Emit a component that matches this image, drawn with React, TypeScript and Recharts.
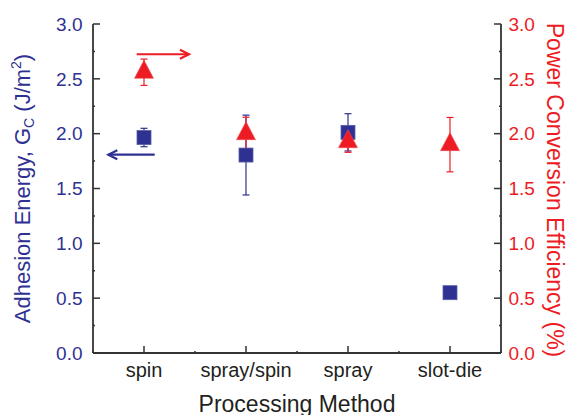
import React from 'react';
import { ComposedChart, Scatter, XAxis, YAxis, ErrorBar, ReferenceLine, Label } from 'recharts';

const categories = ['spin', 'spray/spin', 'spray', 'slot-die'];
const categoryPos = [1, 2, 3, 4];
const adhesion = [1.965, 1.805, 2.012, 0.55];
const adhesionErr = [0.084, 0.364, 0.17, 0.03];
const pce = [2.56, 2.0, 1.927, 1.9];
const pceErr = [0.12, 0.15, 0.097, 0.248];

const xTicks = [0.5, 1, 1.5, 2, 2.5, 3, 3.5, 4, 4.5];
const yTicks = [0, 0.25, 0.5, 0.75, 1, 1.25, 1.5, 1.75, 2, 2.25, 2.5, 2.75, 3];
const yMajorLabels = ['0.0', '0.5', '1.0', '1.5', '2.0', '2.5', '3.0'];

// arrow annotations (data space)
const redArrow = [{ x: 0.928, y: 2.724 }, { x: 1.441, y: 2.724 }];
const blueArrow = [{ x: 1.105, y: 1.808 }, { x: 0.65, y: 1.808 }];

const BLUE = '#2e3192';
const RED = '#ed1c24';
const AXIS = '#333333';
const FONT = 'Liberation Sans, Arial, Helvetica, sans-serif';

const adhesionData = categoryPos.map((x, i) => ({ x, y: adhesion[i], err: adhesionErr[i] }));
const pceData = categoryPos.map((x, i) => ({ x, y: pce[i], err: pceErr[i] }));

const isMajorX = (v: number) => Number.isInteger(v);
const isMajorY = (v: number) => Math.abs(v * 2 - Math.round(v * 2)) < 1e-6;

const BottomTick = (props: any) => {
  const { x, y, payload } = props;
  const v = payload.value;
  const major = isMajorX(v);
  const idx = categoryPos.indexOf(v);
  return (
    <g>
      <line x1={x} x2={x} y1={y} y2={y - (major ? 7 : 2)} stroke={AXIS} strokeWidth={1.5} />
      {major && idx >= 0 && (
        <text x={x} y={y + 24} textAnchor="middle" fontSize={20} fill="#231f20" fontFamily={FONT}>
          {categories[idx]}
        </text>
      )}
    </g>
  );
};

const TopTick = (props: any) => {
  const { x, y, payload } = props;
  const major = isMajorX(payload.value);
  return <line x1={x} x2={x} y1={y} y2={y + (major ? 2 : 1.5)} stroke={AXIS} strokeWidth={1.5} />;
};

const labelFor = (v: number) => yMajorLabels[Math.round(v * 2)];

const LeftTick = (props: any) => {
  const { x, y, payload } = props;
  const v = payload.value;
  const major = isMajorY(v);
  return (
    <g>
      <line x1={x} x2={x + (major ? 7 : 2)} y1={y} y2={y} stroke={AXIS} strokeWidth={1.5} />
      {major && (
        <text x={x - 10.5} y={y + 6.7} textAnchor="end" fontSize={19} fill={BLUE} fontFamily={FONT}>
          {labelFor(v)}
        </text>
      )}
    </g>
  );
};

const RightTick = (props: any) => {
  const { x, y, payload } = props;
  const v = payload.value;
  const major = isMajorY(v);
  return (
    <g>
      <line x1={x} x2={x - (major ? 7 : 2)} y1={y} y2={y} stroke={AXIS} strokeWidth={1.5} />
      {major && (
        <text x={x + 7.5} y={y + 6.7} textAnchor="start" fontSize={19} fill={RED} fontFamily={FONT}>
          {labelFor(v)}
        </text>
      )}
    </g>
  );
};

const LeftTitle = (props: any) => {
  const vb = props.viewBox || {};
  const cy = (vb.y || 0) + (vb.height || 0) / 2;
  return (
    <text
      transform={`translate(29.5, ${cy}) rotate(-90)`}
      textAnchor="middle"
      fontSize={22}
      fill={BLUE}
      fontFamily={FONT}
    >
      Adhesion Energy, G
      <tspan fontSize={14} dy={4}>C</tspan>
      <tspan dy={-4}> (J/m</tspan>
      <tspan fontSize={14} dy={-9}>2</tspan>
      <tspan dy={9}>)</tspan>
    </text>
  );
};

const RightTitle = (props: any) => {
  const vb = props.viewBox || {};
  const cy = (vb.y || 0) + (vb.height || 0) / 2 + 1.5;
  return (
    <text
      transform={`translate(546.5, ${cy}) rotate(90)`}
      textAnchor="middle"
      fontSize={23}
      fill={RED}
      fontFamily={FONT}
    >
      Power Conversion Efficiency (%)
    </text>
  );
};

const BottomTitle = (props: any) => {
  const vb = props.viewBox || {};
  const cx = (vb.x || 0) + (vb.width || 0) / 2;
  return (
    <text x={cx} y={411.5} textAnchor="middle" fontSize={23} fill="#231f20" fontFamily={FONT}>
      Processing Method
    </text>
  );
};

const Square = (props: any) => {
  const { cx, cy } = props;
  if (cx == null || cy == null) return null;
  return <rect x={cx - 7} y={cy - 7} width={14} height={14} fill={BLUE} stroke="#5a5ea8" strokeWidth={0.8} />;
};

const Triangle = (props: any) => {
  const { cx, cy } = props;
  if (cx == null || cy == null) return null;
  const pts = `${cx},${cy - 12} ${cx - 9.5},${cy + 6} ${cx + 9.5},${cy + 6}`;
  return <polygon points={pts} fill={RED} stroke="#f04a4f" strokeWidth={0.6} />;
};

const makeArrow = (color: string) => (props: any) => {
  const { x1, y1, x2, y2 } = props;
  if ([x1, y1, x2, y2].some((v) => v == null || Number.isNaN(v))) return <g />;
  const dx = x2 - x1;
  const dy = y2 - y1;
  const len = Math.sqrt(dx * dx + dy * dy) || 1;
  const ux = dx / len;
  const uy = dy / len;
  const back = 9;
  const side = 4.5;
  const hx1 = x2 - ux * back - uy * side;
  const hy1 = y2 - uy * back + ux * side;
  const hx2 = x2 - ux * back + uy * side;
  const hy2 = y2 - uy * back - ux * side;
  return (
    <g>
      <line x1={x1} y1={y1} x2={x2} y2={y2} stroke={color} strokeWidth={2.2} />
      <polyline
        points={`${hx1},${hy1} ${x2},${y2} ${hx2},${hy2}`}
        fill="none"
        stroke={color}
        strokeWidth={2.2}
      />
    </g>
  );
};

export default function App() {
  return (
    <div style={{ position: 'absolute', left: 0, top: 0, width: 568, height: 415, background: '#fff' }}>
      <ComposedChart width={568} height={415} margin={{ top: 24, right: 0, bottom: 0, left: 0 }}>
        <XAxis
          xAxisId="main"
          dataKey="x"
          type="number"
          domain={[0.5, 4.5]}
          ticks={xTicks}
          interval={0}
          allowDataOverflow
          height={62}
          tickSize={0}
          tickMargin={0}
          tickLine={false}
          axisLine={{ stroke: AXIS, strokeWidth: 1.8 }}
          tick={<BottomTick />}
        >
          <Label content={<BottomTitle />} />
        </XAxis>
        <XAxis
          xAxisId="top"
          orientation="top"
          dataKey="x"
          type="number"
          domain={[0.5, 4.5]}
          ticks={xTicks}
          interval={0}
          allowDataOverflow
          height={0}
          tickSize={0}
          tickMargin={0}
          tickLine={false}
          axisLine={{ stroke: AXIS, strokeWidth: 1.8 }}
          tick={<TopTick />}
        />
        <YAxis
          yAxisId="left"
          type="number"
          domain={[0, 3]}
          ticks={yTicks}
          interval={0}
          allowDataOverflow
          width={93}
          tickSize={0}
          tickMargin={0}
          tickLine={false}
          axisLine={{ stroke: AXIS, strokeWidth: 1.8 }}
          tick={<LeftTick />}
        >
          <Label content={<LeftTitle />} />
        </YAxis>
        <YAxis
          yAxisId="right"
          orientation="right"
          type="number"
          domain={[0, 3]}
          ticks={yTicks}
          interval={0}
          allowDataOverflow
          width={67}
          tickSize={0}
          tickMargin={0}
          tickLine={false}
          axisLine={{ stroke: AXIS, strokeWidth: 1.8 }}
          tick={<RightTick />}
        >
          <Label content={<RightTitle />} />
        </YAxis>

        <ReferenceLine
          xAxisId="main"
          yAxisId="right"
          segment={redArrow}
          ifOverflow="visible"
          shape={makeArrow(RED)}
        />
        <ReferenceLine
          xAxisId="main"
          yAxisId="left"
          segment={blueArrow}
          ifOverflow="visible"
          shape={makeArrow(BLUE)}
        />

        <Scatter
          xAxisId="main"
          yAxisId="left"
          data={adhesionData}
          dataKey="y"
          shape={<Square />}
          isAnimationActive={false}
        >
          <ErrorBar dataKey="err" direction="y" width={3.5} stroke={BLUE} strokeWidth={1.2} />
        </Scatter>
        <Scatter
          xAxisId="main"
          yAxisId="right"
          data={pceData}
          dataKey="y"
          shape={<Triangle />}
          isAnimationActive={false}
        >
          <ErrorBar dataKey="err" direction="y" width={3.5} stroke={RED} strokeWidth={1.2} />
        </Scatter>
      </ComposedChart>
    </div>
  );
}
